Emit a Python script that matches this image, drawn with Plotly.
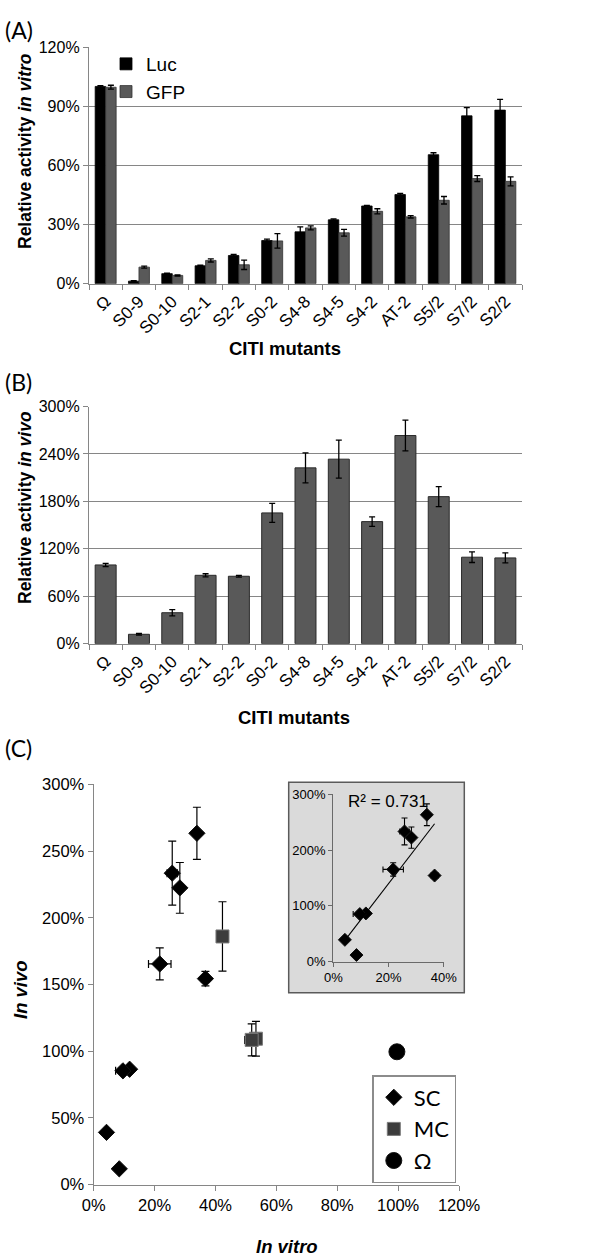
import numpy as np
import plotly.graph_objects as go

# ---------------- data ----------------
categories = ["Ω", "S0-9", "S0-10", "S2-1", "S2-2", "S0-2", "S4-8", "S4-5",
              "S4-2", "AT-2", "S5/2", "S7/2", "S2/2"]
luc = [100, 1.3, 5.1, 9.1, 14.3, 21.9, 26.3, 32.4, 39.4, 45.2, 65.4, 85.1, 88.0]
luc_err = [0.4, 0.2, 0.3, 0.3, 0.5, 0.7, 2.5, 0.4, 0.3, 0.6, 1.0, 4.2, 5.4]
gfp = [99.6, 8.4, 4.2, 11.8, 9.6, 21.7, 28.3, 25.8, 36.7, 33.9, 42.3, 53.3, 51.9]
gfp_err = [1.0, 0.5, 0.3, 0.8, 2.4, 3.7, 1.0, 1.7, 1.3, 0.6, 1.9, 1.5, 2.3]
vivo = [99.6, 11.9, 39.2, 86.5, 85.3, 165.4, 222.4, 233.4, 154.4, 263.3, 186.0, 109.4, 108.5]
vivo_err = [2.0, 1.0, 4.0, 2.0, 1.0, 12.0, 19.0, 24.0, 6.0, 19.5, 12.7, 6.7, 6.3]
# error bars shown on the scatter (panel C)
vivo_err_c = [0.0, 1.0, 1.0, 2.0, 1.0, 12.0, 19.0, 24.0, 5.5, 19.5, 26.0, 13.0, 12.0]
group = ["Ω", "SC", "SC", "SC", "SC", "SC", "SC", "SC", "SC", "SC", "MC", "MC", "MC"]
r2_label = "R² = 0.731"

A_ymax, A_ystep = 120, 30
B_ymax, B_ystep = 300, 60

# ---------------- helpers ----------------
W, H = 616, 1256
def px(x):
    return x / W
def py(y):
    return 1 - y / H

GREY = "#595959"
AXC = "#868686"
BASEFONT = "Liberation Sans, Arial, sans-serif"
CALI = "Lato, Open Sans, sans-serif"

fig = go.Figure()

# ---------- Panel A ----------
fig.add_trace(go.Bar(
    x=categories, y=luc, name="Luc", marker=dict(color="black", line=dict(color="black", width=0.8)),
    error_y=dict(type="data", array=luc_err, color="black", thickness=1.3, width=3),
    xaxis="x", yaxis="y", legend="legend"))
fig.add_trace(go.Bar(
    x=categories, y=gfp, name="GFP", marker=dict(color=GREY, line=dict(color="#333333", width=0.8)),
    error_y=dict(type="data", array=gfp_err, color="black", thickness=1.3, width=3),
    xaxis="x", yaxis="y", legend="legend"))

# ---------- Panel B ----------
fig.add_trace(go.Bar(
    x=categories, y=vivo, name="in vivo", showlegend=False,
    marker=dict(color=GREY, line=dict(color="#2a2a2a", width=1)),
    error_y=dict(type="data", array=vivo_err, color="black", thickness=1.3, width=3),
    xaxis="x2", yaxis="y2", offsetgroup="b"))

# ---------- Panel C ----------
def sel(arr, g):
    return [a for a, gg in zip(arr, group) if gg == g]

sym = {"SC": "diamond", "MC": "square", "Ω": "circle"}
size = {"SC": 12.5, "MC": 13, "Ω": 16}
col = {"SC": "black", "MC": "#3c3c3c", "Ω": "black"}
for g in ["SC", "MC", "Ω"]:
    fig.add_trace(go.Scatter(
        x=sel(gfp, g), y=sel(vivo, g), mode="markers", name=g,
        marker=dict(symbol=sym[g], size=size[g], color=col[g],
                    line=dict(color="#7a7a7a" if g == "MC" else "#111111", width=1)),
        error_y=dict(type="data", array=sel(vivo_err_c, g), color="black", thickness=1.2, width=4,
                     visible=g != "Ω"),
        error_x=dict(type="data", array=sel(gfp_err, g), color="black", thickness=1.2, width=4,
                     visible=g != "Ω"),
        xaxis="x3", yaxis="y3", legend="legend2"))

# inset: SC only with linear trendline
sc_x = np.array(sel(gfp, "SC"))
sc_y = np.array(sel(vivo, "SC"))
fig.add_trace(go.Scatter(
    x=sc_x, y=sc_y, mode="markers", showlegend=False,
    marker=dict(symbol="diamond", size=10, color="black", line=dict(color="#111111", width=1)),
    error_y=dict(type="data", array=sel(vivo_err_c, "SC"), color="black", thickness=1.1, width=3),
    error_x=dict(type="data", array=sel(gfp_err, "SC"), color="black", thickness=1.1, width=3),
    xaxis="x4", yaxis="y4"))
slope, intercept = np.polyfit(sc_x, sc_y, 1)
xl = np.array([sc_x.min(), sc_x.max()])
fig.add_trace(go.Scatter(
    x=xl, y=slope * xl + intercept, mode="lines", showlegend=False,
    line=dict(color="black", width=1.1), xaxis="x4", yaxis="y4"))

# ---------------- layout ----------------
tickf = dict(family=BASEFONT, size=16, color="black")
xtickf = dict(family=BASEFONT, size=17, color="black")
common_line = dict(showline=True, linecolor=AXC, linewidth=1.3, ticks="outside",
                   tickcolor=AXC, ticklen=5, tickwidth=1.3, automargin=False, zeroline=False)

fig.update_layout(
    width=W, height=H, autosize=False,
    margin=dict(l=0, r=0, t=0, b=0),
    paper_bgcolor="white", plot_bgcolor="rgba(0,0,0,0)",
    barmode="group", bargap=0.37, bargroupgap=0.0,
    font=dict(family=BASEFONT, color="black"),
    xaxis=dict(domain=[px(89), px(522)], anchor="y", type="category",
               tickson="boundaries", tickangle=-45, tickfont=xtickf, **common_line),
    yaxis=dict(domain=[py(283.7), py(47)], anchor="x", range=[0, A_ymax], tick0=0, dtick=A_ystep,
               ticksuffix="%", tickfont=tickf, showgrid=True, gridcolor=AXC, gridwidth=1.3,
               **common_line),
    xaxis2=dict(domain=[px(89), px(522)], anchor="y2", type="category",
                tickson="boundaries", tickangle=-45, tickfont=xtickf, **common_line),
    yaxis2=dict(domain=[py(643.7), py(406.5)], anchor="x2", range=[0, B_ymax], tick0=0, dtick=B_ystep,
                ticksuffix="%", tickfont=tickf, showgrid=True, gridcolor=AXC, gridwidth=1.3,
                **common_line),
    xaxis3=dict(domain=[px(93.7), px(459)], anchor="y3", range=[0, 120], dtick=20,
                ticksuffix="%", tickfont=dict(family=BASEFONT, size=16.5), showgrid=False,
                **common_line),
    yaxis3=dict(domain=[py(1184.7), py(784.3)], anchor="x3", range=[0, 300], dtick=50,
                ticksuffix="%", tickfont=dict(family=BASEFONT, size=16.5), showgrid=False,
                **common_line),
    xaxis4=dict(domain=[px(333.3), px(443.7)], anchor="y4", range=[0, 40], dtick=20,
                ticksuffix="%", tickfont=dict(family=BASEFONT, size=13), showgrid=False,
                showline=True, linecolor="#6a6a6a", linewidth=1.2, ticks="outside",
                tickcolor="#6a6a6a", ticklen=4, automargin=False, zeroline=False),
    yaxis4=dict(domain=[py(961.7), py(794.3)], anchor="x4", range=[0, 300], dtick=100,
                ticksuffix="%", tickfont=dict(family=BASEFONT, size=13), showgrid=False,
                showline=True, linecolor="#6a6a6a", linewidth=1.2, ticks="outside",
                tickcolor="#6a6a6a", ticklen=4, automargin=False, zeroline=False),
    legend=dict(x=px(106), y=py(45), xanchor="left", yanchor="top", bgcolor="rgba(0,0,0,0)",
                font=dict(family=BASEFONT, size=19), itemwidth=30, tracegroupgap=0),
    legend2=dict(x=px(372.3), y=py(1075), xanchor="left", yanchor="top", bgcolor="white",
                 bordercolor="#8c8c8c", borderwidth=1.5,
                 font=dict(family=CALI, size=22), itemwidth=30, tracegroupgap=0),
    shapes=[dict(type="rect", xref="paper", yref="paper",
                 x0=px(288.7), x1=px(464.3), y0=py(992.7), y1=py(782.3),
                 fillcolor="#dadada", line=dict(color="#5a5a5a", width=1.5), layer="below")],
)

ann = []
def add_text(text, x, y, size, family=BASEFONT, angle=0, xanchor="center"):
    ann.append(dict(text=text, x=px(x), y=py(y), xref="paper", yref="paper", showarrow=False,
                    xanchor=xanchor, yanchor="middle", textangle=angle,
                    font=dict(family=family, size=size, color="black")))

add_text("(A)", 3, 30, 23, CALI, xanchor="left")
add_text("(B)", 3, 382, 23, CALI, xanchor="left")
add_text("(C)", 3, 748, 23, CALI, xanchor="left")
add_text("<b>Relative activity <i>in vitro</i></b>", 25, 151, 17.5, angle=-90)
add_text("<b>Relative activity <i>in vivo</i></b>", 25, 508, 17.5, angle=-90)
add_text("<b>CITI mutants</b>", 285, 348, 18.5)
add_text("<b>CITI mutants</b>", 294, 717, 18.5)
add_text("<b><i>In vivo</i></b>", 20, 989, 18.5, angle=-90)
add_text("<b><i>In vitro</i></b>", 287, 1246, 18.5)
add_text(r2_label, 346, 801, 17, xanchor="left")
fig.update_layout(annotations=ann)

fig.write_html("out.html")
